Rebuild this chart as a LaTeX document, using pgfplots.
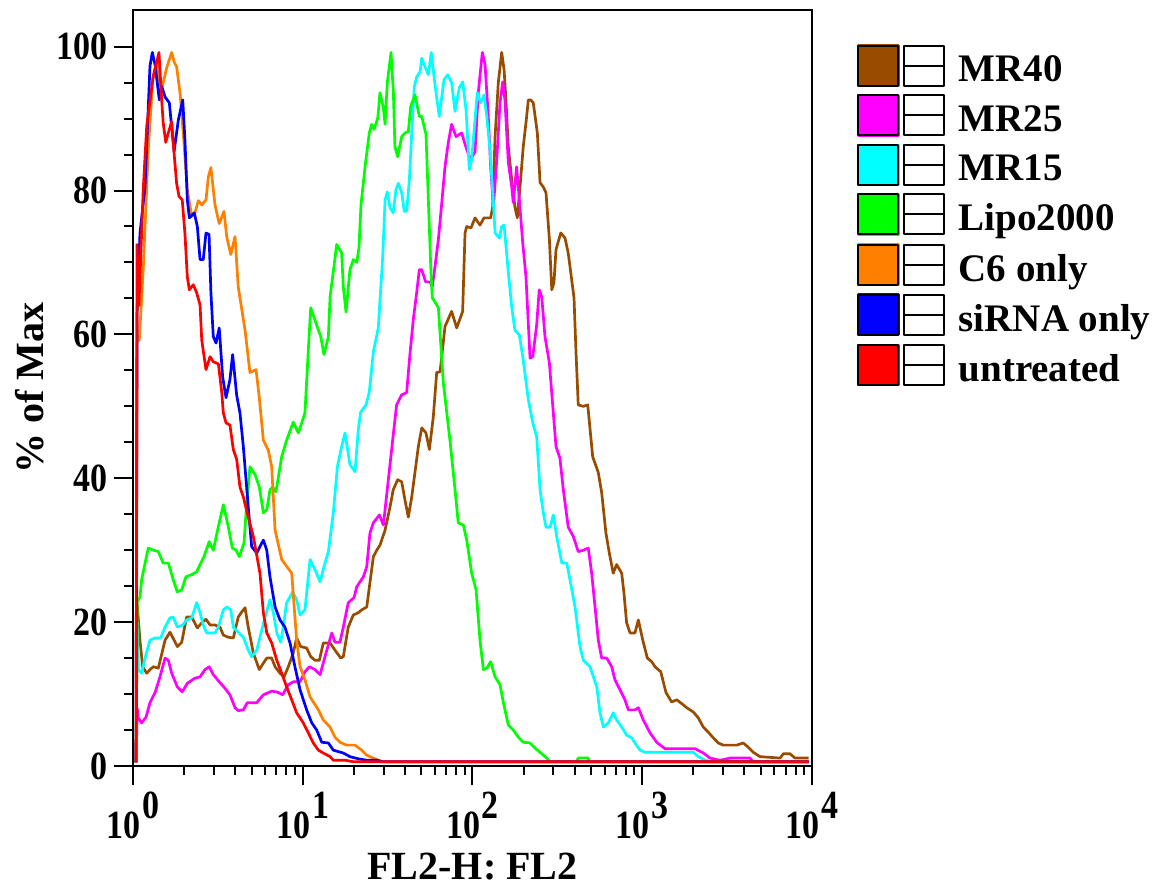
\documentclass[border=0pt]{standalone}
\usepackage{pgfplots}
\pgfplotsset{compat=1.18}
\usepackage{fontspec}
\setmainfont{Liberation Serif}

\definecolor{cMRforty}{RGB}{153,76,0}
\definecolor{cMRtwentyfive}{RGB}{255,0,255}
\definecolor{cMRfifteen}{RGB}{0,255,255}
\definecolor{cLipo}{RGB}{0,255,0}
\definecolor{cCsix}{RGB}{255,128,0}
\definecolor{cSiRNA}{RGB}{0,0,255}
\definecolor{cUntreated}{RGB}{255,0,0}

% x values are log10 of FL2-H (the axis is drawn in decades)
\pgfplotstableread{
u y
0.018 0.5
0.025 22.4
0.041 17.5
0.057 13.8
0.081 12.9
0.100 13.4
0.120 13.8
0.149 13.6
0.189 17.5
0.218 18.6
0.242 17.5
0.261 16.6
0.287 17.2
0.316 20.7
0.346 20.7
0.379 19.2
0.405 19.9
0.430 20.4
0.454 19.6
0.483 19.6
0.513 19.3
0.532 18.2
0.561 17.9
0.591 17.8
0.620 20.7
0.640 21.4
0.660 22
0.679 19.3
0.709 15.7
0.744 13.4
0.768 14.3
0.788 15
0.817 15
0.837 13.8
0.866 12.9
0.890 12.4
0.915 13.8
0.944 15.7
0.964 17.8
0.988 16.6
1.023 16.4
1.047 15.2
1.072 14.7
1.098 14.7
1.121 17.1
1.161 17.1
1.190 16.1
1.224 15
1.239 15.2
1.268 19.3
1.298 21
1.327 21.3
1.347 21.7
1.377 22.1
1.416 29.1
1.436 30
1.455 30.7
1.485 32.8
1.514 36
1.533 38.4
1.559 39.8
1.583 39.5
1.602 37
1.622 34.6
1.642 37.4
1.661 40.8
1.681 44.4
1.701 47
1.726 46.3
1.746 44
1.769 48.5
1.789 54.7
1.809 54.8
1.838 61.1
1.877 63.2
1.907 60.9
1.942 63.2
1.956 74.1
1.966 75
1.991 74.8
2.015 76.2
2.044 75.2
2.068 76.2
2.107 76.2
2.119 77.7
2.133 87.5
2.152 95
2.172 99.2
2.186 96.8
2.197 92.6
2.211 86.1
2.231 81.5
2.250 77.7
2.264 76.2
2.280 80.5
2.299 86.1
2.315 89.4
2.329 92.6
2.343 92.6
2.358 92.2
2.382 88
2.398 81.1
2.417 80.5
2.433 79.7
2.453 73.2
2.467 66.2
2.480 67.2
2.492 71.8
2.520 74.1
2.545 73.4
2.564 71.3
2.598 65.1
2.610 57.4
2.623 50.2
2.653 50
2.679 50.2
2.708 43
2.741 40.8
2.761 38
2.786 32.4
2.806 29.6
2.829 26.8
2.849 28
2.879 26.8
2.892 24.1
2.908 19.9
2.928 18.5
2.957 18.5
2.977 20.3
3.003 17.5
3.030 15
3.056 14.5
3.075 13.8
3.109 13.1
3.140 10.2
3.173 8.9
3.203 9.2
3.242 8.5
3.262 8.1
3.301 7.5
3.330 6.7
3.360 5.4
3.389 4.7
3.419 3.9
3.448 3.2
3.477 2.9
3.556 2.9
3.595 3.2
3.625 2.6
3.654 1.9
3.694 1.3
3.812 1.1
3.831 1.7
3.870 1.7
3.900 1.1
3.980 1.1
}\mrforty

\pgfplotstableread{
u y
0.018 0.5
0.025 8
0.031 6.7
0.051 6
0.077 6.8
0.100 8.8
0.130 10.2
0.159 12.4
0.189 15
0.208 14.7
0.228 12.9
0.261 11
0.290 10.3
0.320 11.5
0.365 12.2
0.395 12.4
0.424 13.4
0.449 13.8
0.473 12.7
0.508 11.7
0.542 10.8
0.571 9.9
0.601 8.1
0.620 7.7
0.650 7.8
0.673 8.8
0.729 8.8
0.768 9.9
0.817 10.4
0.847 10.3
0.882 9.9
0.915 11.3
0.944 11.7
0.984 11.7
1.013 13.1
1.039 13.8
1.072 13.4
1.102 12.7
1.137 15.7
1.171 18.5
1.190 17.2
1.219 17.2
1.239 19.3
1.268 22.7
1.302 23.4
1.318 24.9
1.357 26.3
1.377 27.7
1.396 32.4
1.416 33.8
1.451 34.9
1.475 33.5
1.533 46
1.553 50.2
1.583 51.6
1.612 51.9
1.632 57.4
1.651 62
1.671 65.8
1.687 69
1.701 69
1.724 67.3
1.750 67.3
1.763 66.6
1.779 69.4
1.799 73.2
1.819 78.3
1.838 83.3
1.857 86.6
1.877 89.2
1.903 87.5
1.936 88
1.966 85.7
1.989 84.3
2.015 85.4
2.034 93.6
2.058 99.2
2.074 97.5
2.093 90.3
2.107 83.3
2.123 77.7
2.143 84.3
2.162 92.2
2.178 95.1
2.191 92.6
2.211 83.9
2.231 80.5
2.240 78.3
2.260 83.3
2.276 78.7
2.296 72.7
2.315 68
2.339 56.7
2.355 56.9
2.378 61.3
2.393 66.2
2.408 65.2
2.427 59.7
2.453 56
2.476 49.1
2.492 44.4
2.515 42.8
2.535 38.4
2.564 33.2
2.594 31.9
2.623 29.8
2.653 30
2.682 30.3
2.702 26.8
2.722 22.1
2.741 17.5
2.761 15
2.791 15
2.820 13.8
2.839 12
2.869 10.6
2.898 9.2
2.918 7.8
2.957 7.8
2.977 8.1
3.006 6.4
3.046 4.6
3.085 3.3
3.134 2.4
3.311 2.4
3.360 1.8
3.399 1.1
3.458 0.8
3.517 1.1
3.635 1.1
3.652 0.6
3.980 0.6
}\mrtwentyfive

\pgfplotstableread{
u y
0.018 0.5
0.025 20
0.031 13.4
0.051 12.9
0.071 15
0.100 17.5
0.130 17.8
0.163 17.8
0.189 19.3
0.218 20.6
0.237 20.7
0.261 19.3
0.293 19.6
0.316 20.3
0.346 20.6
0.375 22.7
0.395 21.3
0.414 19.6
0.434 18.5
0.483 18.5
0.503 19.3
0.532 21.7
0.552 22.1
0.576 21.7
0.591 19.3
0.620 18.6
0.650 17.9
0.679 16.1
0.699 15.2
0.729 16.1
0.748 17.9
0.778 20.7
0.807 23.1
0.827 21.3
0.847 18.5
0.870 17.2
0.885 19.3
0.905 22.7
0.941 24.2
0.964 23.1
0.984 21
1.013 21.7
1.043 28.7
1.072 27.3
1.102 25.6
1.125 27.7
1.151 29.8
1.180 35.2
1.204 41.6
1.229 44.4
1.249 46.3
1.278 41.9
1.308 40.9
1.327 46.7
1.341 49.2
1.373 50.2
1.392 52
1.416 57.6
1.445 60.9
1.471 70.8
1.485 78.7
1.498 79.8
1.514 77.6
1.533 76.9
1.549 80.1
1.563 81
1.583 79.7
1.598 77.1
1.612 77.1
1.628 81.5
1.642 88
1.657 94.4
1.671 95.8
1.691 96.5
1.701 98.4
1.720 97.2
1.740 96.1
1.757 99.2
1.779 94.7
1.804 90.3
1.832 95.4
1.854 96.1
1.877 95
1.897 91
1.922 94.3
1.942 95.1
1.962 91.2
1.981 82.9
1.995 84.3
2.028 93.6
2.048 92.2
2.068 93.3
2.084 90.3
2.103 85.7
2.123 78.3
2.133 74.1
2.158 73.4
2.172 75
2.186 75.2
2.211 68.6
2.231 63.8
2.250 60.6
2.276 59.9
2.296 56.9
2.329 50.9
2.355 47.7
2.378 45.8
2.398 38.4
2.417 35.2
2.433 33.2
2.457 33.2
2.476 34.9
2.496 31.9
2.526 28.2
2.555 28.2
2.574 25.9
2.604 22.1
2.633 16.6
2.653 14.7
2.692 13.8
2.732 11
2.751 7.4
2.771 5.4
2.800 6
2.829 7.4
2.849 6.4
2.879 5.4
2.908 4.3
2.938 3.9
2.957 3.2
2.987 2.2
3.016 1.9
3.301 1.9
3.330 1.3
3.370 0.8
3.400 0.6
3.980 0.6
}\mrfifteen

\pgfplotstableread{
u y
0.018 0.5
0.025 22.8
0.041 23.5
0.051 25.9
0.071 28.2
0.090 30.3
0.120 30
0.149 29.8
0.178 28.2
0.208 28.2
0.237 25.9
0.261 24.2
0.287 24.5
0.312 26.3
0.346 26.6
0.375 27
0.395 28
0.418 29.1
0.449 31.2
0.473 30
0.503 33.3
0.532 36.3
0.561 33.3
0.585 30.3
0.607 30
0.626 29.1
0.654 31
0.666 35.2
0.689 41.6
0.719 40.5
0.744 38.8
0.768 35.2
0.788 35.6
0.807 38.4
0.823 38.8
0.842 38.1
0.876 43
0.905 45.3
0.944 47.8
0.974 46.3
0.994 47.7
1.013 49.1
1.033 57.9
1.047 63.7
1.072 62
1.092 60.6
1.106 59.7
1.125 57.2
1.151 59.7
1.161 65.2
1.176 68
1.200 72.5
1.229 71.3
1.239 66.6
1.255 63.1
1.278 69
1.298 70.4
1.318 70
1.331 72
1.343 78
1.367 83.3
1.392 88
1.406 89.2
1.420 88.5
1.442 90.1
1.455 93.6
1.475 91.5
1.485 89.2
1.498 95
1.520 99.2
1.534 93.6
1.543 86.1
1.559 84.7
1.583 87.5
1.602 88
1.622 88.2
1.636 91.7
1.661 93.3
1.687 90.3
1.701 90.3
1.726 87.8
1.740 78.7
1.754 69.4
1.763 65.1
1.799 63.7
1.828 53.3
1.867 45.3
1.897 38.4
1.916 33.8
1.946 33.5
1.966 31.4
1.995 26.8
2.021 24.5
2.044 17.5
2.064 13.4
2.084 13.6
2.107 14.5
2.133 12.4
2.162 11.3
2.182 8.8
2.211 5.7
2.240 5
2.270 4
2.299 3.3
2.339 3.2
2.368 2.5
2.398 1.9
2.437 1.1
2.457 0.6
2.614 0.6
2.622 1.1
2.680 1.1
2.692 0.6
3.980 0.6
}\lipo

\pgfplotstableread{
u y
0.018 0.5
0.024 59
0.037 59.2
0.061 69.4
0.090 85.7
0.116 95.4
0.130 96.8
0.143 97.9
0.155 93
0.178 95
0.199 97.1
0.228 99.2
0.242 97.9
0.257 97.2
0.277 93.6
0.296 88
0.320 80.1
0.346 76.4
0.365 76.9
0.385 78.6
0.405 78
0.430 78.7
0.444 81.9
0.459 83.2
0.483 78
0.508 75.4
0.536 77.1
0.552 73.6
0.576 71.1
0.601 73.6
0.620 66.6
0.660 60.6
0.689 54.7
0.725 55.1
0.744 51.2
0.768 45.3
0.797 43.9
0.817 41.6
0.837 32.8
0.876 28.7
0.935 26.8
0.964 17.5
0.984 13.8
1.013 12
1.043 9.6
1.092 7.8
1.121 6.4
1.161 5.4
1.190 4
1.219 3.3
1.259 2.9
1.308 2.9
1.347 2.2
1.377 1.5
1.436 0.9
1.470 0.6
3.980 0.6
}\csix

\pgfplotstableread{
u y
0.018 0.5
0.024 63
0.041 74
0.071 80.6
0.100 97.3
0.114 99.2
0.130 97.5
0.155 92.6
0.169 94.5
0.189 93
0.214 92.2
0.242 85.4
0.267 89.8
0.293 92.6
0.306 87
0.320 78.7
0.332 76.2
0.361 76.9
0.379 75
0.395 70.4
0.414 70.4
0.430 74.1
0.448 73.9
0.459 65.8
0.473 59.7
0.489 58.8
0.508 60.9
0.528 54.1
0.548 51.2
0.571 53.7
0.587 57.2
0.611 51.5
0.630 49.1
0.650 44.4
0.679 36
0.699 30.5
0.729 29.6
0.748 30.5
0.768 31.4
0.788 30
0.807 26.3
0.837 22.1
0.866 20.3
0.895 19.3
0.925 17.1
0.954 13.8
0.984 10.6
1.023 7.8
1.053 6
1.082 5
1.112 3.3
1.151 3.2
1.180 2.2
1.239 1.8
1.278 1.3
1.327 1
1.377 0.8
1.436 0.8
1.470 0.6
3.980 0.6
}\sirna

\pgfplotstableread{
u y
0.018 0.5
0.024 72.5
0.035 64
0.060 80
0.081 89
0.120 96
0.153 99.2
0.169 92.6
0.178 89.4
0.193 86.7
0.208 88
0.228 89.6
0.242 85.2
0.257 81
0.271 79.2
0.290 78.7
0.306 74
0.320 68
0.332 66.2
0.355 66.9
0.375 65.8
0.395 64.1
0.405 59.2
0.430 55.1
0.454 56.9
0.473 56.2
0.503 55.9
0.523 51.9
0.532 49.1
0.548 47.7
0.571 47.4
0.591 44
0.611 42.6
0.630 38.8
0.650 37.4
0.679 34.6
0.709 31.9
0.748 26.8
0.768 21.3
0.788 18.5
0.817 17.1
0.847 14.7
0.876 12.9
0.905 11
0.935 9.2
0.964 7.4
1.003 6
1.033 4.6
1.062 3.2
1.092 2.2
1.121 1.8
1.161 1.3
1.180 0.8
1.249 0.8
1.296 0.6
3.980 0.6
}\untreated

\begin{document}
\begin{tikzpicture}
\begin{axis}[
    name=ax,
    scale only axis,
    width=339.5pt,
    height=378pt,
    xmin=0, xmax=4,
    ymin=0, ymax=105.1,
    xtick={0,1,2,3,4},
    xticklabels={
      10\kern1pt\raisebox{0.5em}{0},
      10\kern1pt\raisebox{0.5em}{1},
      10\kern1pt\raisebox{0.5em}{2},
      10\kern1pt\raisebox{0.5em}{3},
      10\kern1pt\raisebox{0.5em}{4}},
    minor xtick={0.301,0.477,0.602,0.699,0.778,0.845,0.903,0.954,
                 1.301,1.477,1.602,1.699,1.778,1.845,1.903,1.954,
                 2.301,2.477,2.602,2.699,2.778,2.845,2.903,2.954,
                 3.301,3.477,3.602,3.699,3.778,3.845,3.903,3.954},
    ytick={0,20,40,60,80,100},
    yticklabels={0,20,40,60,80,100},
    minor ytick={5,10,15,25,30,35,45,50,55,65,70,75,85,90,95},
    tick align=outside,
    xtick pos=bottom,
    ytick pos=left,
    major tick length=9.5pt,
    minor tick length=4.5pt,
    every tick/.style={black, line width=1pt},
    axis line style={line width=1pt},
    tick label style={font=\fontsize{20}{24}\selectfont\bfseries, xscale=0.85},
    xlabel={FL2-H: FL2},
    ylabel={\% of Max},
    label style={font=\fontsize{20}{24}\selectfont\bfseries},
    every axis plot/.append style={line width=1.35pt, line join=round},
    legend style={
      at={(1,1)}, anchor=north west, xshift=22.3pt, yshift=-17pt,
      draw=none, fill=none, inner sep=0pt,
      row sep=2.7pt,
      font=\fontsize{19.5}{22}\selectfont\bfseries,
    },
    legend cell align=left,
    legend image code/.code={
      \fill (0pt,-7.8pt) rectangle (20pt,12.2pt);
      \draw[black, line width=1pt] (0pt,-7.8pt) rectangle (20pt,12.2pt);
      \draw[black, line width=1pt] (22.6pt,-7.8pt) rectangle (43pt,12.2pt);
      \draw[black, line width=1pt] (22.6pt,2.2pt) -- (43pt,2.2pt);
      \path (47.5pt,0pt);
    },
]
\addplot[color=cMRforty] table[x=u, y=y] {\mrforty};
\addlegendentry{MR40}
\addplot[color=cMRtwentyfive] table[x=u, y=y] {\mrtwentyfive};
\addlegendentry{MR25}
\addplot[color=cMRfifteen] table[x=u, y=y] {\mrfifteen};
\addlegendentry{MR15}
\addplot[color=cLipo] table[x=u, y=y] {\lipo};
\addlegendentry{Lipo2000}
\addplot[color=cCsix] table[x=u, y=y] {\csix};
\addlegendentry{C6 only}
\addplot[color=cSiRNA] table[x=u, y=y] {\sirna};
\addlegendentry{siRNA only}
\addplot[color=cUntreated] table[x=u, y=y] {\untreated};
\addlegendentry{untreated}
\end{axis}
\pgfresetboundingbox
\path ([shift={(-66.5pt,-60pt)}]ax.south west) rectangle ([shift={(172pt,5pt)}]ax.north east);
\end{tikzpicture}
\end{document}
